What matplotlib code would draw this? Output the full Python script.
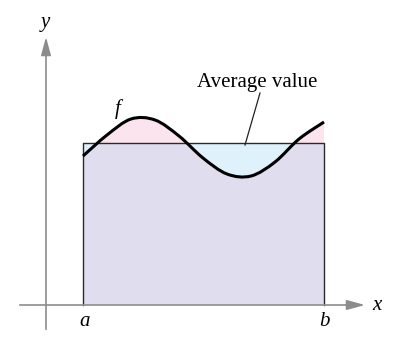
import numpy as np
import matplotlib
matplotlib.use("Agg")
import matplotlib.pyplot as plt
from matplotlib.path import Path
from matplotlib.patches import PathPatch, Rectangle

# curve f (x to the right of the y-axis, y above the x-axis)
curve_x = [37, 61, 85, 109, 133, 157, 181, 205, 229, 253, 278]
curve_y = [149, 170, 186, 185, 169, 147, 131, 129, 143, 166, 183]
a_val = 37
b_val = 278
avg_value = 162

label_avg = "Average value"
serif = ["Liberation Serif", "DejaVu Serif"]


def smooth_verts(xs, ys):
    # catmull-rom through the read points, as cubic bezier segments
    p = np.column_stack([xs, ys]).astype(float)
    verts = [p[0]]
    codes = [Path.MOVETO]
    for i in range(len(p) - 1):
        p0 = p[i - 1] if i > 0 else p[i]
        p3 = p[i + 2] if i + 2 < len(p) else p[i + 1]
        c1 = p[i] + (p[i + 1] - p0) / 6
        c2 = p[i + 1] - (p3 - p[i]) / 6
        verts += [c1, c2, p[i + 1]]
        codes += [Path.CURVE4] * 3
    return verts, codes


fig = plt.figure(figsize=(4.0, 3.38), dpi=100)
ax = fig.add_axes([0, 0, 1, 1])
ax.set_xlim(-46, 354)
ax.set_ylim(-33, 305)
ax.axis("off")

verts, codes = smooth_verts(curve_x, curve_y)
curve_path = Path(verts, codes)

# region under f and region above f, used to clip the fills
under = Path(verts + [(b_val, 0), (a_val, 0), verts[0]],
             codes + [Path.LINETO, Path.LINETO, Path.CLOSEPOLY])
over = Path(verts + [(b_val, 300), (a_val, 300), verts[0]],
            codes + [Path.LINETO, Path.LINETO, Path.CLOSEPOLY])

ax.add_patch(Rectangle((a_val, 0), b_val - a_val, avg_value,
                       facecolor="#e0ddef", lw=0, zorder=1))
pink = Rectangle((a_val, avg_value), b_val - a_val, 100,
                 facecolor="#fbe4ee", lw=0, zorder=2)
ax.add_patch(pink)
pink.set_clip_path(PathPatch(under, transform=ax.transData))
blue = Rectangle((a_val, 60), b_val - a_val, avg_value - 60,
                 facecolor="#dff1fb", lw=0, zorder=2)
ax.add_patch(blue)
blue.set_clip_path(PathPatch(over, transform=ax.transData))

ax.plot([a_val, a_val, b_val, b_val], [0, avg_value, avg_value, 0],
        color="#2a2a2a", lw=1.0, zorder=3)

# axes with arrows
gray = "#8c8c8c"
ax.plot([-26, 305], [0, 0], color=gray, lw=1.2, zorder=4)
ax.plot([0, 0], [-24, 255], color=gray, lw=1.2, zorder=4)
ax.annotate("", xy=(319, 0), xytext=(300, 0),
            arrowprops=dict(arrowstyle="-|>,head_length=1.1,head_width=0.3",
                            color=gray, lw=1.2, shrinkA=0, shrinkB=0), zorder=4)
ax.annotate("", xy=(0, 268), xytext=(0, 250),
            arrowprops=dict(arrowstyle="-|>,head_length=1.1,head_width=0.3",
                            color=gray, lw=1.2, shrinkA=0, shrinkB=0), zorder=4)

ax.add_patch(PathPatch(curve_path, facecolor="none", edgecolor="black",
                       lw=2.2, capstyle="butt", zorder=5))

# leader line to the average value
ax.plot([214, 199], [212, 160], color="#222222", lw=0.9, zorder=5)
ax.text(211, 218, label_avg, family=serif, fontsize=15, ha="center",
        va="baseline", zorder=6)

ax.text(72, 196, "f", family=serif, style="italic", fontsize=15,
        ha="center", va="center")
ax.text(-1, 282, "y", family=serif, style="italic", fontsize=15,
        ha="center", va="center")
ax.text(331, -1, "x", family=serif, style="italic", fontsize=15,
        ha="center", va="center")
ax.text(a_val + 2, -16, "a", family=serif, style="italic", fontsize=15,
        ha="center", va="center")
ax.text(b_val, -16, "b", family=serif, style="italic", fontsize=15,
        ha="center", va="center")

fig.savefig("out.png", dpi=100)
